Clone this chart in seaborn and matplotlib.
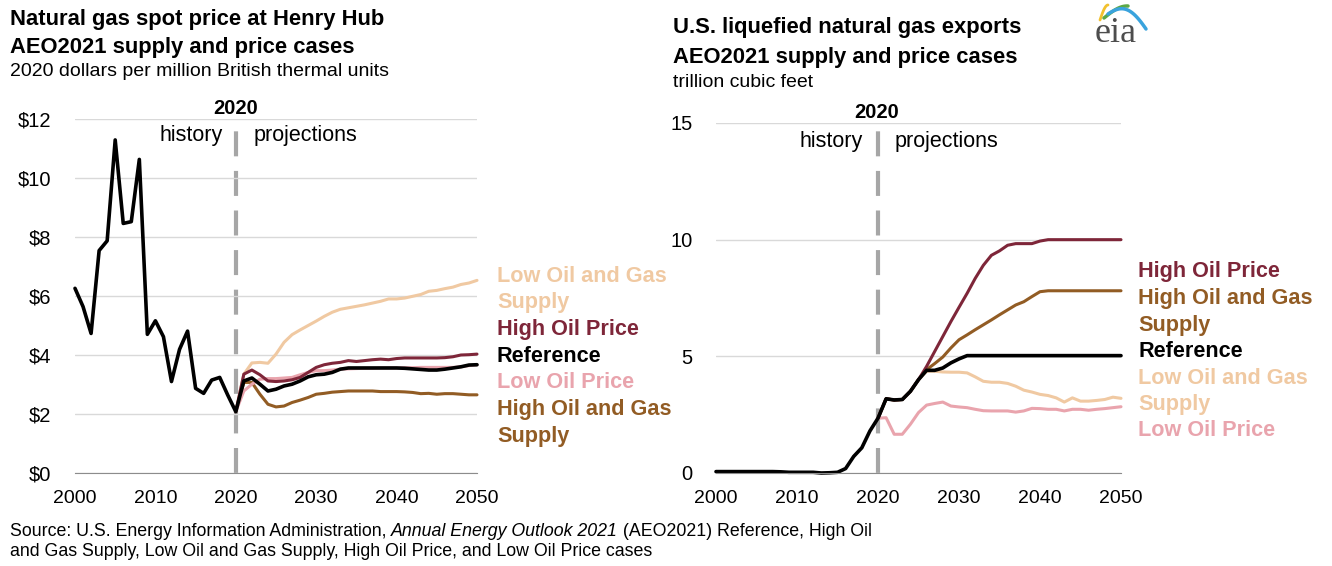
import numpy as np
import pandas as pd
import matplotlib
matplotlib.use('Agg')
import matplotlib.pyplot as plt
import seaborn as sns
from matplotlib import font_manager

# ---- data ----
hist_years = list(range(2000, 2021))
proj_years = list(range(2020, 2051))

# Henry Hub spot price, 2020 $/MMBtu
hh_history = [6.26, 5.64, 4.73, 7.54, 7.87, 11.29, 8.46, 8.52, 10.63, 4.70, 5.16,
              4.62, 3.10, 4.19, 4.81, 2.87, 2.70, 3.15, 3.24, 2.64, 2.08]
hh_reference = [2.08, 3.12, 3.22, 3.01, 2.78, 2.84, 2.95, 3.01, 3.12, 3.26, 3.33,
                3.35, 3.41, 3.52, 3.56, 3.56, 3.56, 3.56, 3.56, 3.56, 3.56,
                3.55, 3.53, 3.51, 3.49, 3.49, 3.52, 3.56, 3.60, 3.66, 3.67]
hh_high_oil_price = [2.08, 3.35, 3.49, 3.33, 3.12, 3.10, 3.12, 3.16, 3.24, 3.41, 3.58,
                     3.67, 3.72, 3.75, 3.81, 3.78, 3.81, 3.84, 3.86, 3.84, 3.88,
                     3.90, 3.90, 3.90, 3.90, 3.90, 3.91, 3.94, 4.00, 4.01, 4.03]
hh_low_oil_price = [2.08, 2.78, 3.01, 3.18, 3.20, 3.20, 3.22, 3.24, 3.33, 3.41, 3.47,
                    3.47, 3.49, 3.52, 3.53, 3.54, 3.55, 3.55, 3.56, 3.56, 3.56,
                    3.57, 3.57, 3.58, 3.58, 3.58, 3.58, 3.58, 3.60, 3.64, 3.67]
hh_high_og_supply = [2.08, 3.07, 3.07, 2.67, 2.33, 2.24, 2.27, 2.39, 2.47, 2.56, 2.67,
                     2.70, 2.74, 2.76, 2.78, 2.78, 2.78, 2.78, 2.76, 2.76, 2.76,
                     2.75, 2.73, 2.69, 2.70, 2.67, 2.69, 2.69, 2.67, 2.65, 2.65]
hh_low_og_supply = [2.08, 3.35, 3.73, 3.75, 3.72, 4.03, 4.43, 4.69, 4.85, 5.00, 5.15,
                    5.31, 5.45, 5.55, 5.60, 5.65, 5.70, 5.76, 5.82, 5.90, 5.90,
                    5.93, 5.99, 6.05, 6.16, 6.19, 6.25, 6.30, 6.39, 6.44, 6.53]

# U.S. LNG exports, trillion cubic feet
lng_history = [0.06, 0.06, 0.06, 0.06, 0.06, 0.06, 0.06, 0.06, 0.05, 0.03, 0.03,
               0.03, 0.03, 0.00, 0.01, 0.03, 0.19, 0.71, 1.08, 1.80, 2.35]
lng_reference = [2.35, 3.18, 3.13, 3.15, 3.50, 4.00, 4.40, 4.40, 4.50, 4.72, 4.89,
                 5.03, 5.03, 5.03, 5.03, 5.03, 5.03, 5.03, 5.03, 5.03, 5.03,
                 5.03, 5.03, 5.03, 5.03, 5.03, 5.03, 5.03, 5.03, 5.03, 5.03]
lng_high_oil_price = [2.35, 3.18, 3.13, 3.15, 3.50, 4.00, 4.57, 5.21, 5.85, 6.49, 7.10,
                      7.70, 8.34, 8.90, 9.33, 9.52, 9.76, 9.83, 9.83, 9.83, 9.94,
                      10.0, 10.0, 10.0, 10.0, 10.0, 10.0, 10.0, 10.0, 10.0, 10.0]
lng_high_og_supply = [2.35, 3.18, 3.13, 3.15, 3.50, 4.00, 4.43, 4.69, 4.97, 5.36, 5.71,
                      5.92, 6.14, 6.35, 6.56, 6.78, 6.99, 7.20, 7.34, 7.56, 7.77,
                      7.81, 7.81, 7.81, 7.81, 7.81, 7.81, 7.81, 7.81, 7.81, 7.81]
lng_low_og_supply = [2.35, 3.18, 3.13, 3.15, 3.50, 4.00, 4.36, 4.36, 4.33, 4.32, 4.32,
                     4.29, 4.12, 3.93, 3.89, 3.89, 3.84, 3.72, 3.55, 3.47, 3.37,
                     3.32, 3.22, 3.04, 3.22, 3.08, 3.08, 3.11, 3.15, 3.25, 3.20]
lng_low_oil_price = [2.35, 2.37, 1.66, 1.66, 2.09, 2.59, 2.91, 2.98, 3.04, 2.87, 2.83,
                     2.80, 2.73, 2.67, 2.66, 2.66, 2.66, 2.61, 2.66, 2.77, 2.76,
                     2.73, 2.73, 2.66, 2.73, 2.73, 2.69, 2.73, 2.76, 2.80, 2.84]

cases = ['Low Oil and Gas Supply', 'High Oil and Gas Supply', 'Low Oil Price',
         'High Oil Price', 'Reference']
colors = {'Reference': '#000000', 'High Oil Price': '#7e2639',
          'High Oil and Gas Supply': '#925c24', 'Low Oil and Gas Supply': '#f0c9a2',
          'Low Oil Price': '#e9a4ad'}


def build(history, proj):
    rows = []
    for y, v in zip(hist_years, history):
        rows.append((y, v, 'Reference'))
    for case, vals in proj.items():
        for y, v in zip(proj_years, vals):
            if case == 'Reference' and y == 2020:
                continue
            rows.append((y, v, case))
    return pd.DataFrame(rows, columns=['year', 'value', 'case'])


hh = build(hh_history, {'Reference': hh_reference, 'High Oil Price': hh_high_oil_price,
                        'Low Oil Price': hh_low_oil_price,
                        'High Oil and Gas Supply': hh_high_og_supply,
                        'Low Oil and Gas Supply': hh_low_og_supply})
lng = build(lng_history, {'Reference': lng_reference, 'High Oil Price': lng_high_oil_price,
                          'Low Oil Price': lng_low_oil_price,
                          'High Oil and Gas Supply': lng_high_og_supply,
                          'Low Oil and Gas Supply': lng_low_og_supply})

# ---- style ----
sns.set_style('white')
plt.rcParams['font.family'] = ['Liberation Sans', 'DejaVu Sans']
plt.rcParams['text.color'] = 'black'
plt.rcParams['xtick.color'] = 'black'
plt.rcParams['ytick.color'] = 'black'
installed = {f.name for f in font_manager.fontManager.ttflist}
narrow = 'Liberation Sans Narrow' if 'Liberation Sans Narrow' in installed else 'Liberation Sans'

W, H = 1332, 566
fig = plt.figure(figsize=(W / 100, H / 100), dpi=100)


def fx(px):
    return px / W


def fy(py):
    return 1 - py / H


ax1 = fig.add_axes([fx(75), fy(473), fx(477) - fx(75), fy(119) - fy(473)])
ax2 = fig.add_axes([fx(716), fy(473), fx(1121) - fx(716), fy(123) - fy(473)])


def style_axis(ax, df, ymax, yticks, ylabels):
    for c in cases:
        sub = df[df['case'] == c]
        sns.lineplot(data=sub, x='year', y='value', ax=ax, color=colors[c],
                     lw=2.6 if c == 'Reference' else 2.2, legend=False, clip_on=False)
    ax.axvline(2020, ymin=0, ymax=1, color='#a6a6a6', lw=3, ls=(0, (6, 3.5)), zorder=0)
    ax.set_xlim(2000, 2050)
    ax.set_ylim(0, ymax)
    ax.set_xticks(range(2000, 2051, 10))
    ax.set_xticklabels([str(y) for y in range(2000, 2051, 10)], family=[narrow, 'DejaVu Sans'],
                       fontsize=14)
    ax.set_yticks(yticks)
    ax.set_yticklabels(ylabels, fontsize=14.5)
    ax.grid(axis='y', color='#d9d9d9', lw=1)
    ax.set_axisbelow(True)
    for s in ['left', 'right', 'top']:
        ax.spines[s].set_visible(False)
    ax.spines['bottom'].set_color('#8c8c8c')
    ax.tick_params(axis='x', direction='out', length=6, color='#8c8c8c', pad=6)
    ax.tick_params(axis='y', length=0, pad=17)
    ax.set_xlabel('')
    ax.set_ylabel('')


style_axis(ax1, hh, 12, range(0, 13, 2), ['$%d' % v for v in range(0, 13, 2)])
style_axis(ax2, lng, 15, range(0, 16, 5), [str(v) for v in range(0, 16, 5)])

# ---- titles ----
fig.text(fx(10), fy(20), 'Natural gas spot price at Henry Hub', fontsize=15.8, weight='bold', va='center')
fig.text(fx(10), fy(47), 'AEO2021 supply and price cases', fontsize=15.8, weight='bold', va='center')
fig.text(fx(10), fy(72), '2020 dollars per million British thermal units', fontsize=14, va='center')
fig.text(fx(673), fy(27), 'U.S. liquefied natural gas exports', fontsize=15.8, weight='bold', va='center')
fig.text(fx(673), fy(57), 'AEO2021 supply and price cases', fontsize=15.8, weight='bold', va='center')
fig.text(fx(673), fy(83), 'trillion cubic feet', fontsize=14, va='center')

# 2020 / history / projections annotations
fig.text(fx(236), fy(108), '2020', fontsize=14.5, weight='bold', ha='center', va='center')
fig.text(fx(223), fy(135), 'history', fontsize=15.5, ha='right', va='center')
fig.text(fx(254), fy(135), 'projections', fontsize=15.5, ha='left', va='center')
fig.text(fx(877), fy(113), '2020', fontsize=14.5, weight='bold', ha='center', va='center')
fig.text(fx(863), fy(141), 'history', fontsize=15.5, ha='right', va='center')
fig.text(fx(895), fy(141), 'projections', fontsize=15.5, ha='left', va='center')

# ---- case labels ----
left_labels = [('Low Oil and Gas', 'Low Oil and Gas Supply'), ('Supply', 'Low Oil and Gas Supply'),
               ('High Oil Price', 'High Oil Price'), ('Reference', 'Reference'),
               ('Low Oil Price', 'Low Oil Price'), ('High Oil and Gas', 'High Oil and Gas Supply'),
               ('Supply', 'High Oil and Gas Supply')]
right_labels = [('High Oil Price', 'High Oil Price'), ('High Oil and Gas', 'High Oil and Gas Supply'),
                ('Supply', 'High Oil and Gas Supply'), ('Reference', 'Reference'),
                ('Low Oil and Gas', 'Low Oil and Gas Supply'), ('Supply', 'Low Oil and Gas Supply'),
                ('Low Oil Price', 'Low Oil Price')]
for i, (t, c) in enumerate(left_labels):
    fig.text(fx(497), fy(276 + i * 26.67), t, fontsize=15.6, weight='bold', color=colors[c], va='center')
for i, (t, c) in enumerate(right_labels):
    fig.text(fx(1138), fy(272 + i * 26.5), t, fontsize=15.6, weight='bold', color=colors[c], va='center')

# ---- source note ----
fig.canvas.draw()
renderer = fig.canvas.get_renderer()
parts = [('Source: U.S. Energy Information Administration, ', 'normal'),
         ('Annual Energy Outlook 2021', 'italic'),
         (' (AEO2021) Reference, High Oil', 'normal')]
x = 10
for t, st in parts:
    tx = fig.text(fx(x), fy(531), t, fontsize=12.8, style=st, family=[narrow, 'DejaVu Sans'], va='center')
    x += tx.get_window_extent(renderer).width
fig.text(fx(10), fy(552), 'and Gas Supply, Low Oil and Gas Supply, High Oil Price, and Low Oil Price cases',
         fontsize=12.8, family=[narrow, 'DejaVu Sans'], va='center')

# ---- eia logo ----
lax = fig.add_axes([fx(1085), fy(52), fx(1155) - fx(1085), fy(0) - fy(52)])
lax.set_xlim(0, 70)
lax.set_ylim(52, 0)
lax.axis('off')
t = np.linspace(0, 1, 30)
lax.plot(15 + 8 * t, 20 - 15 * np.sin(t * np.pi / 2), color='#f2c12e', lw=2)
lax.plot(19 + 24 * t, 18 - 13 * np.sin(t * np.pi / 2) + 1 * t, color='#5ca846', lw=2.5)
lax.plot(23 + 38 * t, 14 - 8 * np.sin(t * np.pi) + 15 * t ** 2, color='#3aa3dd', lw=2.5)
lax.text(31, 33, 'eia', fontsize=26, family=['Liberation Serif', 'DejaVu Serif'], color='#4d4d4d',
         ha='center', va='center')

fig.savefig('out.png', dpi=100)
